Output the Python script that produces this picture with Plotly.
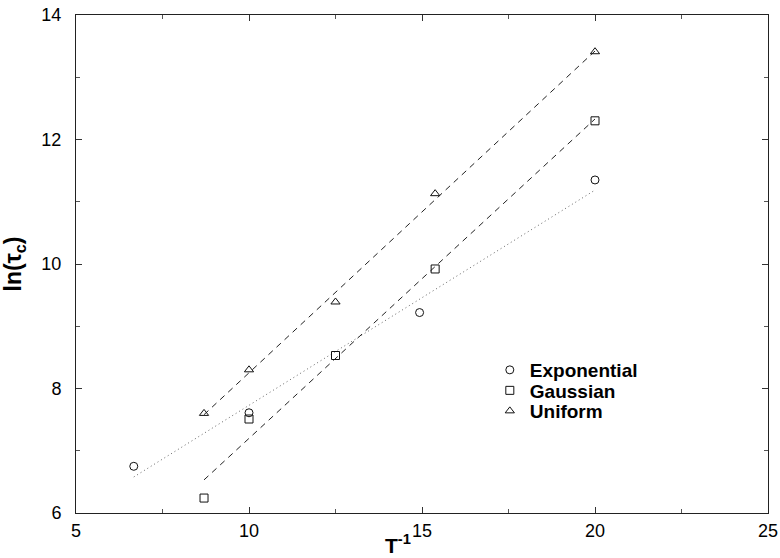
import numpy as np
import plotly.graph_objects as go

# data (x = 1/T, y = ln(tau_c))
exp_x = [6.67, 10.0, 14.93, 20.0]
exp_y = [6.75, 7.61, 9.22, 11.35]
gau_x = [8.70, 10.0, 12.5, 15.38, 20.0]
gau_y = [6.24, 7.51, 8.53, 9.92, 12.30]
uni_x = [8.70, 10.0, 12.5, 15.38, 20.0]
uni_y = [7.60, 8.30, 9.39, 11.13, 13.41]

series_names = ["Exponential", "Gaussian", "Uniform"]
x_ticks = [5, 10, 15, 20, 25]
y_ticks = [6, 8, 10, 12, 14]

FONT = "Liberation Sans, Arial, Helvetica, sans-serif"

def fit_line(x, y):
    k, b = np.polyfit(x, y, 1)
    xs = np.array([min(x), max(x)])
    return xs, k * xs + b

fig = go.Figure()

# fit lines
for xs, ys, dash, col in [
    (*fit_line(uni_x, uni_y), "6px,5px", "#222"),
    (*fit_line(gau_x, gau_y), "6px,5px", "#222"),
    (*fit_line(exp_x, exp_y), "1px,3px", "#666"),
]:
    fig.add_trace(go.Scatter(x=xs, y=ys, mode="lines", showlegend=False,
                             line=dict(color=col, width=1, dash=dash), hoverinfo="skip"))

# data markers, each with its own legend box so rows can sit 20 px apart
legend_ids = ["legend", "legend2", "legend3"]
for name, x, y, sym, lg in zip(series_names, [exp_x, gau_x, uni_x], [exp_y, gau_y, uni_y],
                               ["circle-open", "square-open", "triangle-up-open"], legend_ids):
    fig.add_trace(go.Scatter(x=x, y=y, mode="markers", name="<b>%s</b>" % name, legend=lg,
                             marker=dict(symbol=sym, size=8, color="#111",
                                         line=dict(width=1, color="#111"))))

def legend_at(ypix):
    # convert a pixel row (centre) to paper coords for the plot area (top 15, bottom 513)
    return dict(x=0.598, y=(513 - ypix) / 498.0, xanchor="left", yanchor="middle",
                bgcolor="rgba(0,0,0,0)", borderwidth=0,
                font=dict(size=19, family=FONT, color="black"), itemwidth=30)

fig.update_layout(
    width=780, height=558,
    margin=dict(l=76, r=12, t=15, b=45, autoexpand=False),
    paper_bgcolor="white", plot_bgcolor="white",
    font=dict(family=FONT, color="black", size=18),
    legend=legend_at(370),
    legend2=legend_at(390.5),
    legend3=legend_at(411),
)

# x-axis title as an annotation resting on the bottom edge of the page
fig.add_annotation(text="<b>T<sup>-1</sup></b>", xref="paper", yref="paper", x=0.466, y=0,
                   xanchor="center", yanchor="bottom", yshift=-45, showarrow=False,
                   borderpad=0, font=dict(size=21, family=FONT, color="black"))

axis_common = dict(showgrid=False, zeroline=False, showline=True, linecolor="#222",
                   linewidth=1, mirror="allticks", ticks="inside", ticklen=6,
                   tickcolor="#333", tickfont=dict(size=18, family=FONT), automargin=False,
                   minor=dict(ticks="inside", ticklen=4, tickcolor="#555"))

fig.update_xaxes(range=[5, 25], tickvals=x_ticks, ticktext=[str(v) for v in x_ticks],
                 minor_dtick=2.5, ticklabelstandoff=1, **axis_common)
fig.update_yaxes(range=[6, 14], tickvals=y_ticks, ticktext=[str(v) for v in y_ticks],
                 title=dict(text="<b>ln(τ<sub>c</sub>)</b>", font=dict(size=23, family=FONT), standoff=14),
                 minor_dtick=1, ticklabelstandoff=10, **axis_common)

fig.write_html("out.html")
